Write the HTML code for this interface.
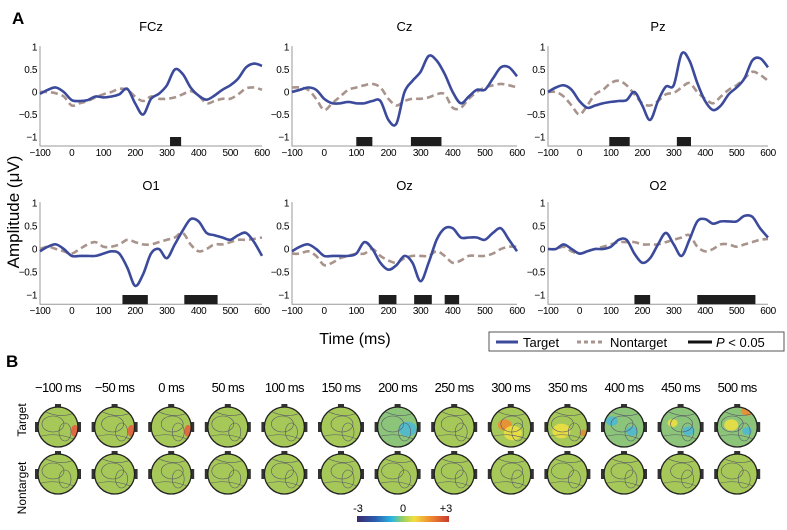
<!DOCTYPE html>
<html><head><meta charset="utf-8">
<style>
html,body{margin:0;padding:0;background:#fff;}
svg{display:block;font-family:"Liberation Sans",sans-serif;}
</style></head>
<body>
<svg id="fig" width="787" height="530" viewBox="0 0 787 530" xmlns="http://www.w3.org/2000/svg">
<text x="12" y="24" font-size="17" font-weight="bold">A</text>
<text x="6" y="367" font-size="17" font-weight="bold">B</text>
<text transform="translate(19,212) rotate(-90)" text-anchor="middle" font-size="17">Amplitude (μV)</text>
<text x="355" y="344" text-anchor="middle" font-size="16">Time (ms)</text>
<g>
<rect x="489" y="332" width="295" height="19" fill="#fff" stroke="#555" stroke-width="1"/>
<line x1="496" y1="342" x2="518" y2="342" stroke="#3c4a9c" stroke-width="3"/>
<text x="523" y="347" font-size="13">Target</text>
<line x1="577" y1="342" x2="605" y2="342" stroke="#a8948c" stroke-width="3" stroke-dasharray="4 3"/>
<text x="610" y="347" font-size="13">Nontarget</text>
<line x1="688" y1="342" x2="712" y2="342" stroke="#111" stroke-width="3"/>
<text x="716" y="347" font-size="13"><tspan font-style="italic">P</tspan> &lt; 0.05</text>
</g>
<g id="charts"></g>
<g id="topo"></g>
<defs>
<linearGradient id="cbar" x1="0" x2="1" y1="0" y2="0">
<stop offset="0" stop-color="#3a2a6e"/><stop offset="0.2" stop-color="#2a5db0"/><stop offset="0.38" stop-color="#2ab8e0"/>
<stop offset="0.5" stop-color="#9cd060"/><stop offset="0.62" stop-color="#f0e040"/><stop offset="0.8" stop-color="#f08a30"/><stop offset="1" stop-color="#c83a30"/>
</linearGradient>
</defs>
<g>
<rect x="357" y="516" width="92" height="6" fill="url(#cbar)"/>
<text x="358" y="512" text-anchor="middle" font-size="11">-3</text>
<text x="403" y="512" text-anchor="middle" font-size="11">0</text>
<text x="446" y="512" text-anchor="middle" font-size="11">+3</text>
</g>
</svg>
<script>
const times = [-100,-75,-50,-25,0,25,50,75,100,125,150,175,200,225,250,275,300,325,350,375,400,425,450,475,500,525,550,575,600];
const channels = ["FCz","Cz","Pz","O1","Oz","O2"];
const targetFCz = [-0.04,0.05,0.1,0.0,-0.18,-0.2,-0.18,-0.1,-0.12,-0.1,-0.05,0.07,-0.25,-0.5,-0.15,-0.04,0.15,0.5,0.4,0.1,-0.08,-0.17,-0.08,0.05,0.15,0.3,0.55,0.63,0.58];
const nontargetFCz = [0.0,0.0,-0.03,-0.1,-0.3,-0.25,-0.2,-0.12,-0.05,0.0,0.07,0.05,-0.1,-0.2,-0.1,-0.15,-0.15,-0.12,-0.05,0.02,-0.08,-0.25,-0.2,-0.15,-0.15,-0.05,0.08,0.1,0.05];
const targetCz = [0.0,0.05,0.1,0.05,-0.15,-0.25,-0.25,-0.22,-0.25,-0.25,-0.2,-0.2,-0.62,-0.7,0.0,0.25,0.45,0.8,0.7,0.4,0.0,-0.25,-0.1,0.05,0.05,0.3,0.55,0.55,0.35];
const nontargetCz = [0.1,0.1,0.05,-0.15,-0.4,-0.25,-0.1,0.05,0.1,0.15,0.18,0.1,-0.15,-0.3,-0.2,-0.15,-0.15,-0.12,-0.05,-0.05,-0.35,-0.35,-0.15,0.0,0.1,0.15,0.18,0.15,0.1];
const targetPz = [0.0,0.1,0.15,0.05,-0.2,-0.35,-0.3,-0.25,-0.22,-0.2,-0.18,0.0,-0.3,-0.62,-0.2,0.12,0.15,0.85,0.7,0.2,-0.2,-0.4,-0.3,-0.05,0.1,0.3,0.7,0.75,0.55];
const nontargetPz = [0.0,0.0,-0.1,-0.3,-0.5,-0.3,-0.05,0.05,0.2,0.25,0.15,-0.05,-0.25,-0.3,-0.2,-0.05,-0.02,0.1,0.2,0.0,-0.15,-0.25,-0.1,0.05,0.15,0.3,0.45,0.38,0.25];
const targetO1 = [-0.05,0.05,0.1,0.0,-0.15,-0.15,-0.15,-0.15,-0.1,-0.05,-0.1,-0.4,-0.8,-0.55,-0.1,0.0,-0.2,0.1,0.4,0.65,0.6,0.35,0.3,0.25,0.2,0.3,0.35,0.15,-0.15];
const nontargetO1 = [0.0,0.05,0.0,-0.05,-0.1,0.0,0.1,0.15,0.05,0.05,0.1,0.2,0.15,0.1,0.1,0.15,0.2,0.25,0.35,0.1,-0.05,0.0,0.1,0.1,0.15,0.2,0.2,0.22,0.25];
const targetOz = [-0.05,0.05,0.1,0.0,-0.15,-0.15,-0.15,-0.15,-0.1,0.15,0.0,-0.3,-0.45,-0.35,-0.15,-0.3,-0.7,-0.3,0.2,0.45,0.45,0.25,0.25,0.25,0.2,0.35,0.45,0.2,-0.05];
const nontargetOz = [-0.1,-0.1,-0.05,-0.15,-0.35,-0.3,-0.2,-0.15,-0.1,-0.1,0.0,-0.15,-0.25,-0.3,-0.2,-0.15,-0.15,-0.15,-0.05,-0.15,-0.3,-0.25,-0.15,-0.15,-0.15,-0.1,0.0,0.05,0.05];
const targetO2 = [0.0,0.0,0.1,0.0,-0.1,-0.05,0.0,0.0,0.05,0.2,0.2,-0.1,-0.3,-0.2,0.1,0.35,0.1,-0.15,0.2,0.6,0.65,0.55,0.6,0.6,0.6,0.72,0.7,0.45,0.25];
const nontargetO2 = [0.0,0.0,0.05,-0.05,-0.1,-0.05,0.0,0.05,0.1,0.15,0.15,0.15,0.1,0.1,0.1,0.15,0.2,0.25,0.3,0.05,-0.05,0.0,0.1,0.1,0.05,0.1,0.15,0.2,0.22];
const sigFCz = [[310,345]];
const sigCz = [[100,150],[270,365]];
const sigPz = [[95,160],[310,355]];
const sigO1 = [[160,240],[355,460]];
const sigOz = [[170,225],[280,335],[375,420]];
const sigO2 = [[175,225],[375,560]];
const xTicks = [-100,0,100,200,300,400,500,600];
const yTicks = [1,0.5,0,-0.5,-1];
const yTickLabels = ["1","0.5","0","\u22120.5","\u22121"];
const topoTimes = ["\u2212100 ms","\u221250 ms","0 ms","50 ms","100 ms","150 ms","200 ms","250 ms","300 ms","350 ms","400 ms","450 ms","500 ms"];

const NS="http://www.w3.org/2000/svg";
function mk(tag, attrs, parent){const e=document.createElementNS(NS,tag);for(const k in attrs)e.setAttribute(k,attrs[k]);parent.appendChild(e);return e;}
const targets=[targetFCz,targetCz,targetPz,targetO1,targetOz,targetO2];
const nontargets=[nontargetFCz,nontargetCz,nontargetPz,nontargetO1,nontargetOz,nontargetO2];
const sigs=[sigFCz,sigCz,sigPz,sigO1,sigOz,sigO2];
const colX0=[40,292,548], colX1=[262,517,768];
const rowY0=[92,249], rowUnit=[45,46], titleY=[31,190];
const charts=document.getElementById('charts');
function smooth(pts){let d="M"+pts[0][0].toFixed(1)+","+pts[0][1].toFixed(1);
 for(let i=0;i<pts.length-1;i++){const p0=pts[Math.max(0,i-1)],p1=pts[i],p2=pts[i+1],p3=pts[Math.min(pts.length-1,i+2)];
 const c1=[p1[0]+(p2[0]-p0[0])/6,p1[1]+(p2[1]-p0[1])/6],c2=[p2[0]-(p3[0]-p1[0])/6,p2[1]-(p3[1]-p1[1])/6];
 d+=" C"+c1[0].toFixed(1)+","+c1[1].toFixed(1)+" "+c2[0].toFixed(1)+","+c2[1].toFixed(1)+" "+p2[0].toFixed(1)+","+p2[1].toFixed(1);}return d;}
channels.forEach((ch,i)=>{
 const c=i%3,r=Math.floor(i/3);
 const xs=t=>colX0[c]+(t+100)/700*(colX1[c]-colX0[c]);
 const ys=v=>rowY0[r]-v*rowUnit[r];
 const g=mk('g',{},charts);
 
 
 const tt=mk('text',{x:(colX0[c]+colX1[c])/2,y:titleY[r],'text-anchor':'middle','font-size':13},g);tt.textContent=ch;
 
 
 const yb=ys(-1.2);
 const ax=mk('path',{d:`M${xs(-100)},${ys(1.02)} V${yb} H${xs(600)}`,fill:'none',stroke:'#999','stroke-width':1},g);
 
 
 yTicks.forEach((v,k)=>{const t=mk('text',{x:xs(-100)-3,y:ys(v)+3.5,'text-anchor':'end','font-size':10,'letter-spacing':'-0.4'},g);t.textContent=yTickLabels[k];
  
  });
 xTicks.forEach(v=>{const t=mk('text',{x:xs(v),y:yb+10,'text-anchor':'middle','font-size':10,'letter-spacing':'-0.4'},g);t.textContent=v<0?"\u2212"+(-v):String(v);
  
  });
 sigs[i].forEach(s=>{const b=mk('rect',{x:xs(s[0]),y:ys(-1),width:xs(s[1])-xs(s[0]),height:yb-ys(-1),fill:'#1e1e1e'},g);
  
  });
 const pn=mk('path',{d:smooth(times.map((t,k)=>[xs(t),ys(nontargets[i][k])])),fill:'none',stroke:'#a8948c','stroke-width':2.6,'stroke-dasharray':'7 4'},g);
 
 
 const pt=mk('path',{d:smooth(times.map((t,k)=>[xs(t),ys(targets[i][k])])),fill:'none',stroke:'#3c4a9c','stroke-width':2.6},g);
 
 
});
// topomaps
const topo=document.getElementById('topo');
const rl1=mk('text',{transform:'translate(26,420) rotate(-90)','text-anchor':'middle','font-size':12},topo);rl1.textContent='Target';


const rl2=mk('text',{transform:'translate(26,488) rotate(-90)','text-anchor':'middle','font-size':12},topo);rl2.textContent='Nontarget';


const blobs={6:[['#4ab8d8',10,2,9]],8:[['#f08a30',-6,-2,7],['#f0e040',2,6,9]],9:[['#f0e040',-6,4,9],['#e08a30',16,6,4]],10:[['#4ab8d8',8,4,6],['#4ab8d8',-12,-6,6]],11:[['#4ab8d8',8,4,6],['#f0e040',-8,-4,5]],12:[['#f0e040',-6,-2,7],['#4ab8d8',10,4,5],['#f08a30',10,-16,6]]};
topoTimes.forEach((lab,k)=>{
 const cx=58+k*56.6;
 const tl=mk('text',{x:cx,y:392,'text-anchor':'middle','font-size':13,'letter-spacing':'-0.6'},topo);tl.textContent=lab;
 
 
 [427,474].forEach((cy,row)=>{
  const g=mk('g',{},topo);
  
  
  const id='clip'+k+'_'+row;
  const cp=mk('clipPath',{id:id},g);mk('circle',{cx:cx,cy:cy,r:20},cp);
  mk('rect',{x:cx-3,y:cy-23,width:6,height:3,fill:'#333'},g);
  mk('rect',{x:cx-23,y:cy-5,width:3,height:10,fill:'#333'},g);
  mk('rect',{x:cx+20,y:cy-5,width:3,height:10,fill:'#333'},g);
  mk('circle',{cx:cx,cy:cy,r:20,fill:row===0&&(k===6||k>=10)?'#8cc47a':'#a6c858'},g);
  const inner=mk('g',{'clip-path':'url(#'+id+')'},g);
  if(row===0&&blobs[k])blobs[k].forEach(b=>mk('ellipse',{cx:cx+b[1],cy:cy+b[2],rx:b[3],ry:b[3]*0.8,fill:b[0],opacity:0.85},inner));
  if(row===0&&k<3)mk('ellipse',{cx:cx+17,cy:cy+4,rx:4,ry:6,fill:'#e06a40'},inner);
  mk('ellipse',{cx:cx-5+(k%3)*3,cy:cy-3,rx:11,ry:8,fill:'none',stroke:'#556','stroke-width':0.6},inner);
  mk('ellipse',{cx:cx+7,cy:cy+5,rx:6,ry:9,fill:'none',stroke:'#556','stroke-width':0.6},inner);
  mk('path',{d:`M${cx-20},${cy+10} Q${cx},${cy+4} ${cx+20},${cy+14}`,fill:'none',stroke:'#556','stroke-width':0.6},inner);
  mk('path',{d:`M${cx-14},${cy-16} Q${cx+2},${cy-8} ${cx+16},${cy-14}`,fill:'none',stroke:'#556','stroke-width':0.6},inner);
  mk('circle',{cx:cx,cy:cy,r:20,fill:'none',stroke:'#222','stroke-width':1.3},g);
 });
});
</script>
</body></html>
